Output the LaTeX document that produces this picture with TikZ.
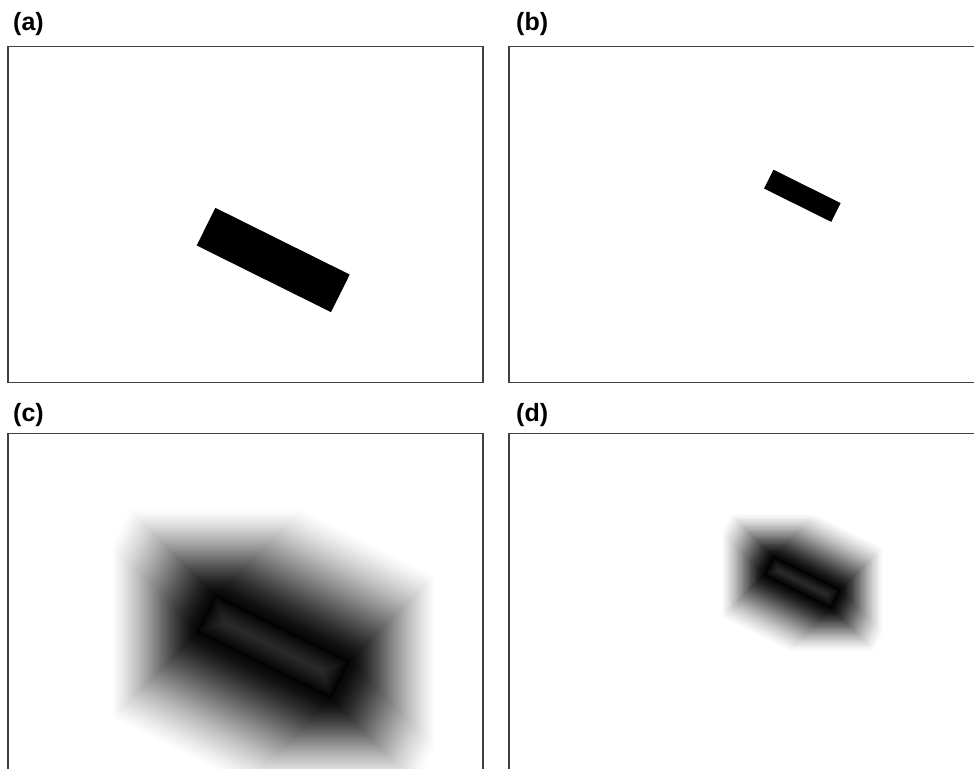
\documentclass[tikz,border=0pt]{standalone}
\usepackage{fontspec}
\setmainfont{Liberation Sans}
\tikzset{
  frame/.style={draw=black!75, line width=1.5pt},
  lab/.style={anchor=base west, inner sep=0pt, font=\fontsize{25}{25}\selectfont\bfseries}
}
% #1 cx, #2 cy, #3 half length, #4 half width, #5 axis dilation d, #6 number of levels, #7 inner levels
\newcommand\distfield[7]{%
  \pgfmathsetmacro\exx{#3*cos(26.4)+#4*sin(26.4)}%
  \pgfmathsetmacro\eyy{#3*sin(26.4)+#4*cos(26.4)}%
  \foreach \i in {#6,...,1}{%
    \pgfmathsetmacro\tt{\i*#5/#6}%
    \pgfmathsetmacro\ss{\i/#6}%
    \pgfmathsetmacro\pct{100*(1-(0.03+0.97*(\ss^1.5)*(1.9-0.9*\ss)))}%
    \begin{scope}
      \clip[shift={(#1,#2)},rotate=-26.4] ({-#3-1.34*\tt},{-#4-1.34*\tt}) rectangle ({#3+1.34*\tt},{#4+1.34*\tt});
      \fill[black!\pct] ({#1-\exx-\tt},{#2-\eyy-\tt}) rectangle ({#1+\exx+\tt},{#2+\eyy+\tt});
    \end{scope}
  }%
  \foreach \j in {0,...,#7}{%
    \pgfmathsetmacro\uu{\j*#4/(#7+1)}%
    \pgfmathsetmacro\pct{100*(1-0.17*(\j/(#7+1))^0.8)}%
    \fill[black!\pct,shift={(#1,#2)},rotate=-26.4] ({-#3+\uu},{-#4+\uu}) rectangle ({#3-\uu},{#4-\uu});
  }%
}
\begin{document}
\begin{tikzpicture}[x=1pt,y=-1pt]
\useasboundingbox (0,0) rectangle (974,768);
\clip (0,0) rectangle (974,768);
\fill[white] (0,0) rectangle (974,768);

% (a) and (b): binary objects
\fill[black,shift={(273.2,260)},rotate=-26.4] (-75,-21) rectangle (75,21);
\fill[black,shift={(802.35,195.8)},rotate=-26.4] (-37.5,-10.5) rectangle (37.5,10.5);

% (c) and (d): distance fields
\distfield{273.2}{646.7}{75}{21}{86}{86}{20}
\distfield{802.35}{582.5}{37.5}{10.5}{43}{50}{10}

% frames
\draw[frame] (8,46.7) rectangle (483,382.7);
\draw[frame] (990,46.7) -- (509,46.7) -- (509,382.7) -- (990,382.7);
\draw[frame] (8,790) -- (8,433.3) -- (483,433.3) -- (483,790);
\draw[frame] (990,433.3) -- (509,433.3) -- (509,790);

% labels
\node[lab] (la) at (13,31) {(a)};
\node[lab] (lb) at (516,31) {(b)};
\node[lab] (lc) at (13,421) {(c)};
\node[lab] (ld) at (516,421) {(d)};
\end{tikzpicture}
\end{document}
